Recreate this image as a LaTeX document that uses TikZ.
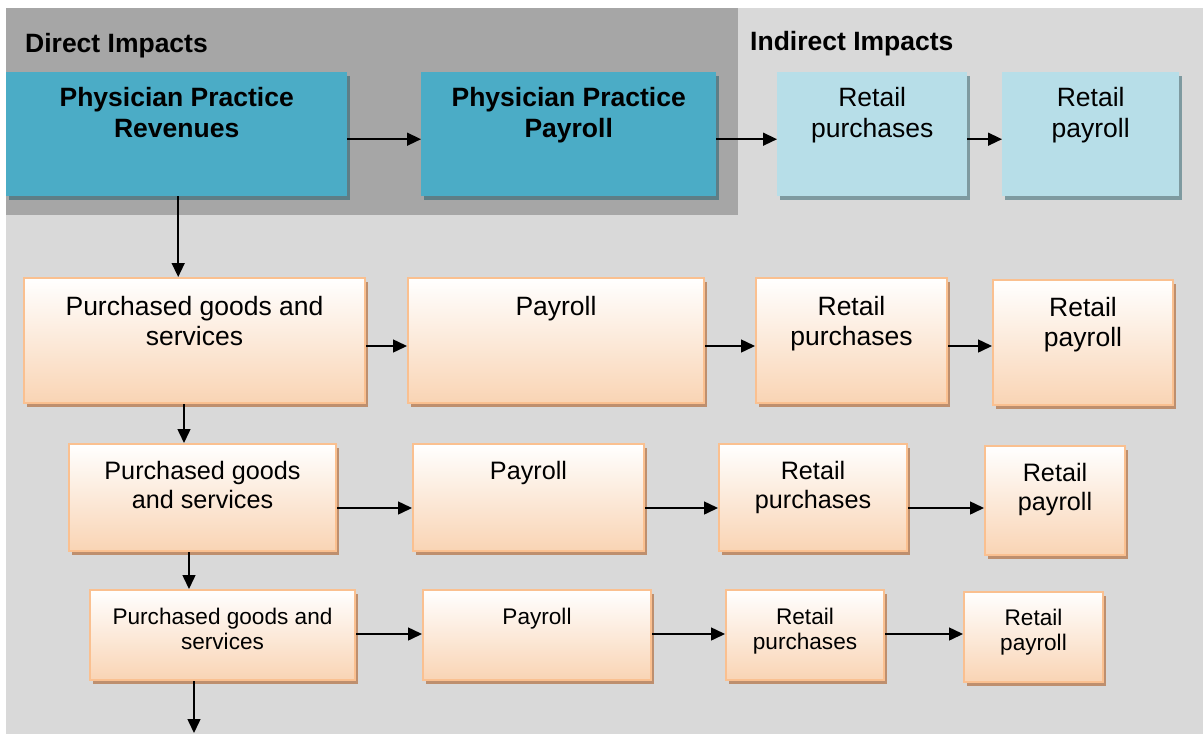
\documentclass[tikz,border=0pt]{standalone}
\usepackage{fontspec}
\setmainfont{Liberation Sans}
\usetikzlibrary{arrows.meta,shadows}

\definecolor{darkpanel}{RGB}{166,166,166}
\definecolor{lightpanel}{RGB}{217,217,217}
\definecolor{tealfill}{RGB}{75,172,198}
\definecolor{tealshadow}{RGB}{94,126,134}
\definecolor{paleblue}{RGB}{183,222,232}
\definecolor{paleshadow}{RGB}{126,154,160}
\definecolor{peachline}{RGB}{250,192,144}
\definecolor{peachfill}{RGB}{249,212,180}
\definecolor{peachshadow}{RGB}{190,143,110}

% width, height, top gap, text
\def\boxtext#1#2#3#4{\parbox[c][#2pt][t]{#1pt}{\centering\vspace*{#3pt}#4}}

\tikzset{
	flatbox/.style={inner sep=0pt, anchor=north west},
	tealbox/.style={flatbox, fill=tealfill, font=\bfseries\fontsize{26.5}{31}\selectfont,
		drop shadow={shadow xshift=3pt, shadow yshift=-4pt, fill=tealshadow, opacity=1}},
	palebox/.style={flatbox, fill=paleblue, font=\fontsize{26.5}{31}\selectfont,
		drop shadow={shadow xshift=3pt, shadow yshift=-4pt, fill=paleshadow, opacity=1}},
	peachbox/.style={flatbox, draw=peachline, line width=2pt, top color=white, bottom color=peachfill,
		drop shadow={shadow xshift=3pt, shadow yshift=-4pt, fill=peachshadow, opacity=1}},
	bigpeach/.style={peachbox, font=\fontsize{26.5}{30}\selectfont},
	midpeach/.style={peachbox, font=\fontsize{25.2}{29}\selectfont},
	smallpeach/.style={peachbox, font=\fontsize{22.6}{25}\selectfont},
	heading/.style={anchor=base west, inner sep=0pt, font=\bfseries\fontsize{26.5}{31}\selectfont},
	arr/.style={line width=1.5pt, -{Triangle[length=14pt,width=13pt]}}
}

\begin{document}
\begin{tikzpicture}[x=1pt, y=-1pt]
	%%%%% START %%%%%
	
	\useasboundingbox (0, 0) rectangle (1203, 734);
	\fill[white] (0, 0) rectangle (1203, 734);
	\fill[lightpanel] (6, 8) rectangle (1203, 734);
	\fill[darkpanel] (6, 8) rectangle (738, 215);
	
	\node[heading] (direct) at (25, 52) {Direct Impacts};
	\node[heading] (indirect) at (750, 50) {Indirect Impacts};
	
	% top row
	\node[tealbox] (rev) at (6, 72) {\boxtext{341}{124}{15}{Physician Practice\\Revenues}};
	\node[tealbox] (docpay) at (421, 72) {\boxtext{295}{124}{15}{Physician Practice\\Payroll}};
	\node[palebox] (retpur) at (777, 72) {\boxtext{190}{124}{15}{Retail\\purchases}};
	\node[palebox] (retpay) at (1002, 72) {\boxtext{177}{124}{15}{Retail\\payroll}};
	
	% first round
	\node[bigpeach] (goodsA) at (23, 277) {\boxtext{341}{125}{18}{Purchased goods and\\services}};
	\node[bigpeach] (payA) at (407, 277) {\boxtext{296}{125}{18}{Payroll}};
	\node[bigpeach] (purA) at (755, 277) {\boxtext{191}{125}{18}{Retail\\purchases}};
	\node[bigpeach] (retA) at (992, 279) {\boxtext{180}{125}{17}{Retail\\payroll}};
	
	% second round
	\node[midpeach] (goodsB) at (68, 443) {\boxtext{267}{107}{17}{Purchased goods\\and services}};
	\node[midpeach] (payB) at (412, 443) {\boxtext{231}{107}{17}{Payroll}};
	\node[midpeach] (purB) at (718, 443) {\boxtext{188}{107}{17}{Retail\\purchases}};
	\node[midpeach] (retB) at (984, 445) {\boxtext{140}{109}{17}{Retail\\payroll}};
	
	% third round
	\node[smallpeach] (goodsC) at (89, 589) {\boxtext{265}{90}{17.8}{Purchased goods and\\services}};
	\node[smallpeach] (payC) at (422, 589) {\boxtext{228}{90}{17.8}{Payroll}};
	\node[smallpeach] (purC) at (725, 589) {\boxtext{158}{90}{17.8}{Retail\\purchases}};
	\node[smallpeach] (retC) at (963, 591) {\boxtext{139}{90}{16.8}{Retail\\payroll}};
	
	\coordinate (onward) at (0, 733);
	\coordinate (dropR) at ([xshift=1.5pt]rev.south);
	\coordinate (dropA) at ([xshift=-10.5pt]goodsA.south);
	\coordinate (dropB) at ([xshift=-13.5pt]goodsB.south);
	\coordinate (dropC) at ([xshift=-28.5pt]goodsC.south);
	
	% arrows
	\draw[arr] ([yshift=-5pt]rev.east) -- ([yshift=-5pt]docpay.west);
	\draw[arr] ([yshift=-5pt]docpay.east) -- ([yshift=-5pt]retpur.west);
	\draw[arr] ([yshift=-5pt]retpur.east) -- ([yshift=-5pt]retpay.west);
	
	\draw[arr] ([yshift=-5.5pt]goodsA.east) -- ([yshift=-5.5pt]payA.west);
	\draw[arr] ([yshift=-5.5pt]payA.east) -- ([yshift=-5.5pt]purA.west);
	\draw[arr] ([yshift=-5.5pt]purA.east) -- ([yshift=-3.5pt]retA.west);
	
	\draw[arr] ([yshift=-10.5pt]goodsB.east) -- ([yshift=-10.5pt]payB.west);
	\draw[arr] ([yshift=-10.5pt]payB.east) -- ([yshift=-10.5pt]purB.west);
	\draw[arr] ([yshift=-10.5pt]purB.east) -- ([yshift=-7.5pt]retB.west);
	
	\draw[arr] ([yshift=1pt]goodsC.east) -- ([yshift=1pt]payC.west);
	\draw[arr] ([yshift=1pt]payC.east) -- ([yshift=1pt]purC.west);
	\draw[arr] ([yshift=1pt]purC.east) -- ([yshift=3pt]retC.west);
	
	\draw[arr] (dropR) -- (dropR |- goodsA.north);
	\draw[arr] (dropA) -- (dropA |- goodsB.north);
	\draw[arr] (dropB) -- (dropB |- goodsC.north);
	\draw[arr] (dropC) -- (dropC |- onward);
	
	%%%%% END %%%%%
\end{tikzpicture}
\end{document}
